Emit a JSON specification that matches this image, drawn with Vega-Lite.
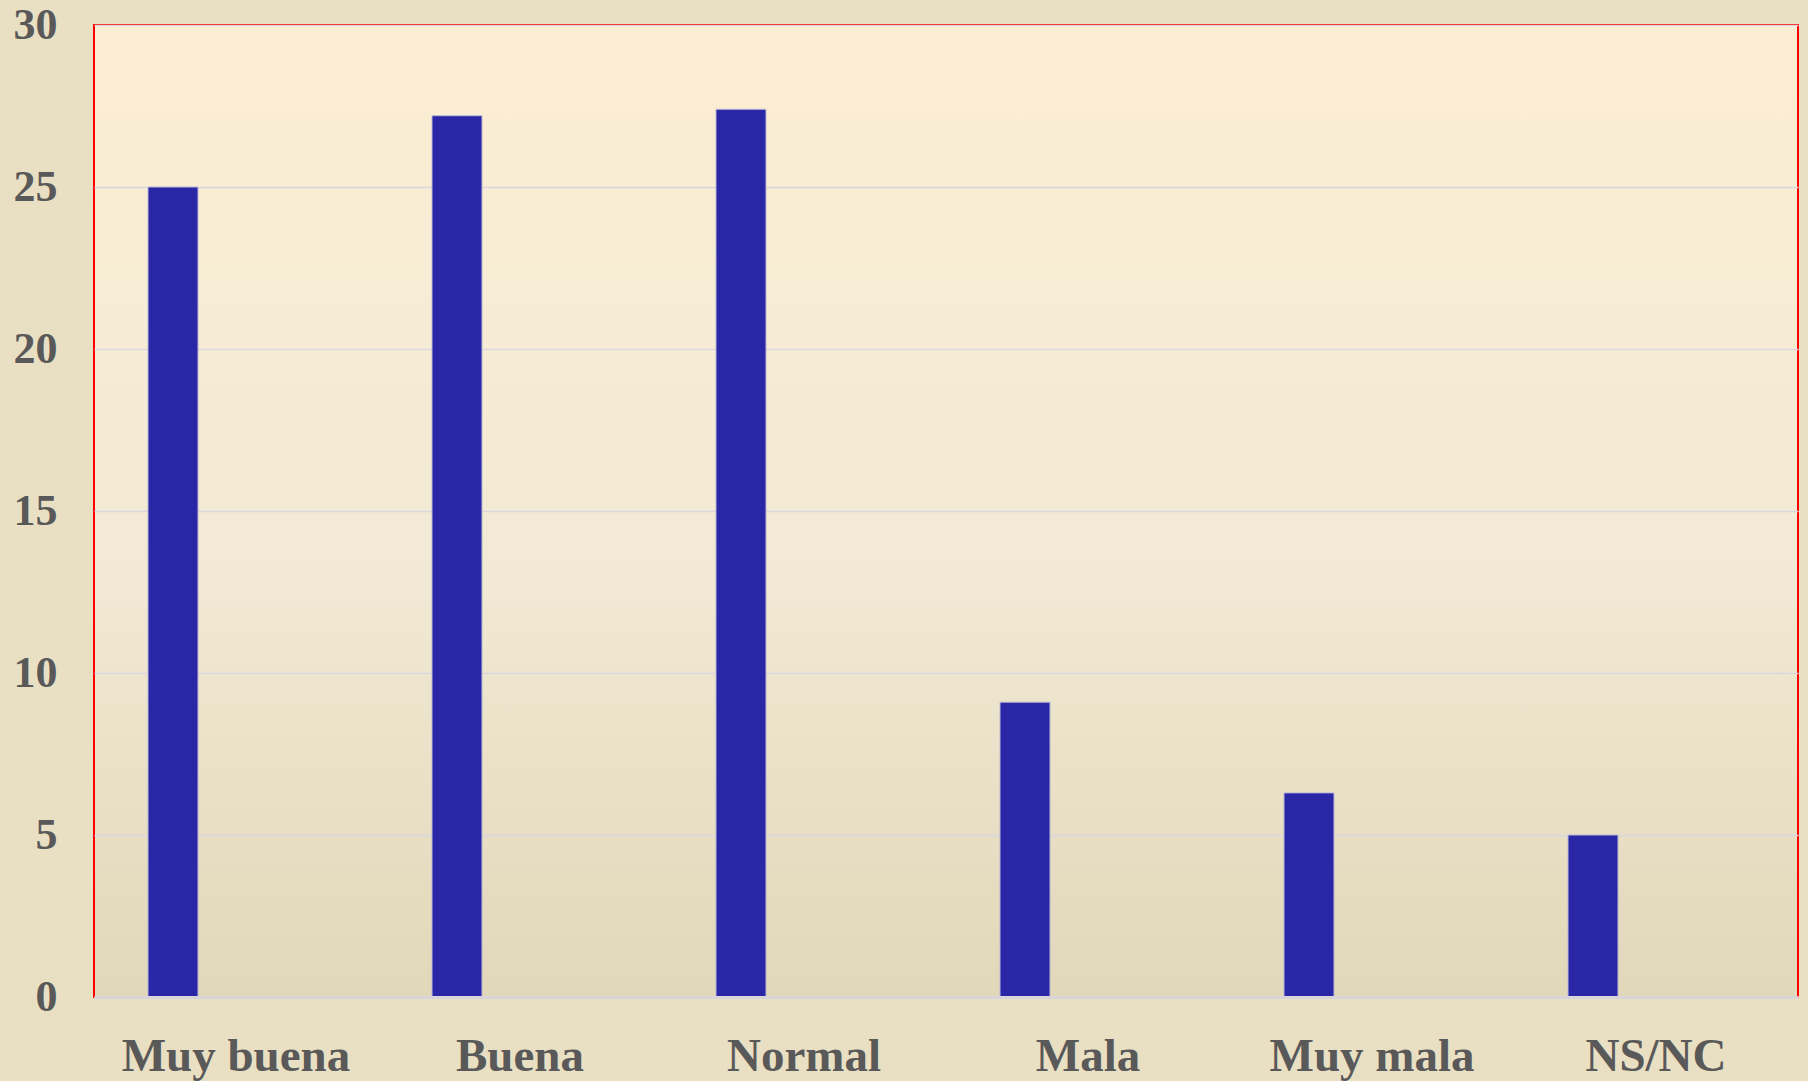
{
  "$schema": "https://vega.github.io/schema/vega-lite/v6.json",
  "width": 1704,
  "height": 972,
  "autosize": {"type": "none"},
  "padding": {"left": 94, "top": 25, "right": 10, "bottom": 84},
  "background": "#E9DFC3",
  "config": {
    "view": {
      "stroke": "#FF0000",
      "strokeWidth": 2,
      "fill": {
        "gradient": "linear",
        "x1": 0, "y1": 0, "x2": 0, "y2": 1,
        "stops": [
          {"offset": 0, "color": "#FCEED4"},
          {"offset": 0.55, "color": "#F2EAD5"},
          {"offset": 1, "color": "#E1D7B9"}
        ]
      }
    }
  },
  "data": {
    "values": [
      {"categoria": "Muy buena", "serie": "Serie 1", "valor": 25.0},
      {"categoria": "Buena", "serie": "Serie 1", "valor": 27.2},
      {"categoria": "Normal", "serie": "Serie 1", "valor": 27.4},
      {"categoria": "Mala", "serie": "Serie 1", "valor": 9.1},
      {"categoria": "Muy mala", "serie": "Serie 1", "valor": 6.3},
      {"categoria": "NS/NC", "serie": "Serie 1", "valor": 5.0}
    ]
  },
  "mark": {"type": "bar", "color": "#2A27A7", "stroke": "#BDB9D6", "strokeWidth": 1},
  "encoding": {
    "x": {
      "field": "categoria",
      "type": "nominal",
      "sort": null,
      "scale": {"paddingInner": 0, "paddingOuter": 0},
      "axis": {
        "title": null,
        "labelAngle": 0,
        "labelLimit": 0,
        "labelFont": "Liberation Serif",
        "labelFontWeight": "bold",
        "labelFontSize": 47,
        "labelColor": "#595959",
        "labelPadding": 36,
        "ticks": false,
        "grid": false,
        "domainColor": "#D9D4DC",
        "domainWidth": 3,
        "zindex": 2
      }
    },
    "xOffset": {
      "field": "serie",
      "type": "nominal",
      "scale": {"domain": ["Serie 1", "Serie 2"], "paddingInner": 0.603, "paddingOuter": 0.4286}
    },
    "y": {
      "field": "valor",
      "type": "quantitative",
      "scale": {"domain": [0, 30], "nice": false},
      "axis": {
        "title": null,
        "values": [0, 5, 10, 15, 20, 25, 30],
        "labelFont": "Liberation Serif",
        "labelFontWeight": "bold",
        "labelFontSize": 44,
        "labelColor": "#595959",
        "labelPadding": 37,
        "ticks": false,
        "domain": false,
        "grid": true,
        "gridColor": "#D9D6DE",
        "gridWidth": 1.5
      }
    }
  }
}
